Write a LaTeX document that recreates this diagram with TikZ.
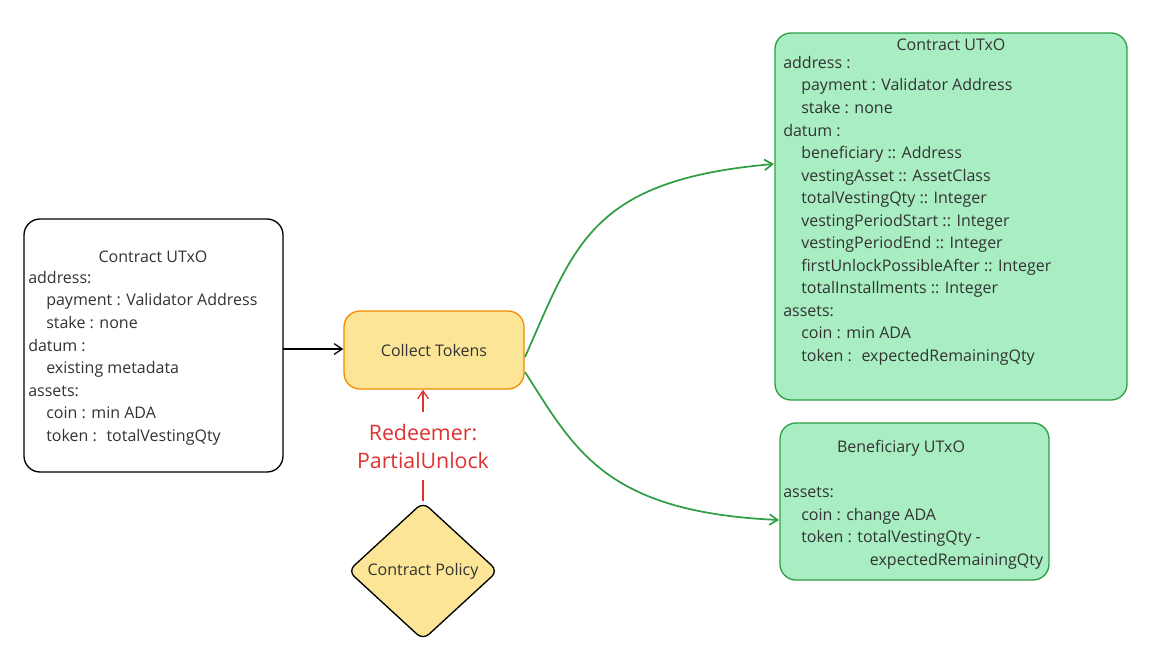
\documentclass[tikz,border=0pt]{standalone}
\usepackage{fontspec}
\setmainfont{Open Sans}
\usetikzlibrary{arrows.meta,shapes.geometric}
\definecolor{txt}{HTML}{333333}
\definecolor{yfill}{HTML}{FCE596}
\definecolor{yedge}{HTML}{F08C00}
\definecolor{gfill}{HTML}{A9EDC2}
\definecolor{gedge}{HTML}{2F9E44}
\definecolor{red1}{HTML}{E03131}
\tikzset{
  box/.style={rounded corners=12pt, line width=1pt},
  body/.style={anchor=north west, align=left, inner sep=0pt, text=txt,
    font=\fontsize{12pt}{16.9pt}\selectfont},
  ttl/.style={inner sep=0pt, text=txt, font=\fontsize{12pt}{14pt}\selectfont},
  conn/.style={line width=1pt, -{Straight Barb[length=6pt,width=8pt]}},
}
\newcommand{\ind}{\hspace*{13.5pt}}
\begin{document}
\begin{tikzpicture}[x=0.75pt,y=-0.75pt]
\useasboundingbox (0,0) rectangle (1167,657);
% left box
\draw[box, fill=white, draw=black] (24,219) rectangle (283,472);
\coordinate (L) at (283,349);
\node[ttl] (lt) at (153,257) {Contract UTxO};
\node[body] (lb) at (28,271) {address:\\ \ind payment : Validator Address\\ \ind stake : none\\ datum :\\ \ind existing metadata\\ assets:\\ \ind coin : min ADA\\ \ind token : \ totalVestingQty};
% collect tokens
\node[box, draw=yedge, fill=yfill, minimum width=180*0.75pt, minimum height=78*0.75pt, text=txt,
  font=\fontsize{12pt}{14pt}\selectfont] (ct) at (434,350) {Collect Tokens};
% diamond
\node[diamond, draw=black, fill=yfill, line width=1pt, rounded corners=6pt, minimum width=150*0.75pt, minimum height=138*0.75pt, inner sep=0pt, text=txt,
  font=\fontsize{12pt}{14pt}\selectfont] (cp) at (423,571) {Contract Policy};
% redeemer
\node[text=red1, align=center, inner sep=0pt, font=\fontsize{16pt}{21pt}\selectfont] (rd) at (423,446) {Redeemer:\\PartialUnlock};
\draw[red1, line width=1pt] (cp.north) -- (423,480);
\coordinate (rt) at (423,412);
\draw[conn, red1] (rt) -- (rt |- ct.south);
% arrow left -> collect
\draw[conn, black] (L) -- (L -| ct.west);
% right contract box
\draw[box, fill=gfill, draw=gedge] (775,33) rectangle (1127,400);
\node[ttl] (rt1) at (951,45) {Contract UTxO};
\node[body] (rb) at (783,56) {address :\\ \ind payment : Validator Address\\ \ind stake : none\\ datum :\\ \ind beneficiary :: Address\\ \ind vestingAsset :: AssetClass\\ \ind totalVestingQty :: Integer\\ \ind vestingPeriodStart :: Integer\\ \ind vestingPeriodEnd :: Integer\\ \ind firstUnlockPossibleAfter :: Integer\\ \ind totalInstallments :: Integer\\ assets:\\ \ind coin : min ADA\\ \ind token : \ expectedRemainingQty};
\coordinate (R1) at (774,164);
% beneficiary box
\draw[box, fill=gfill, draw=gedge] (780,423) rectangle (1049,580);
\node[ttl] (bt) at (901,448) {Beneficiary UTxO};
\node[body] (bb) at (783,487) {assets:\\ \ind coin : change ADA\\ \ind token : totalVestingQty -\\ \hspace*{65pt}expectedRemainingQty};
\coordinate (R2) at (779,520);
% curves
\coordinate (c1) at (525,357);
\coordinate (c2) at (525,372);
\draw[conn, gedge, line width=1.3pt] (c1) .. controls (575,245) and (590,180) .. (R1);
\draw[conn, gedge, line width=1.3pt] (c2) .. controls (575,450) and (605,512) .. (R2);
\end{tikzpicture}
\end{document}
